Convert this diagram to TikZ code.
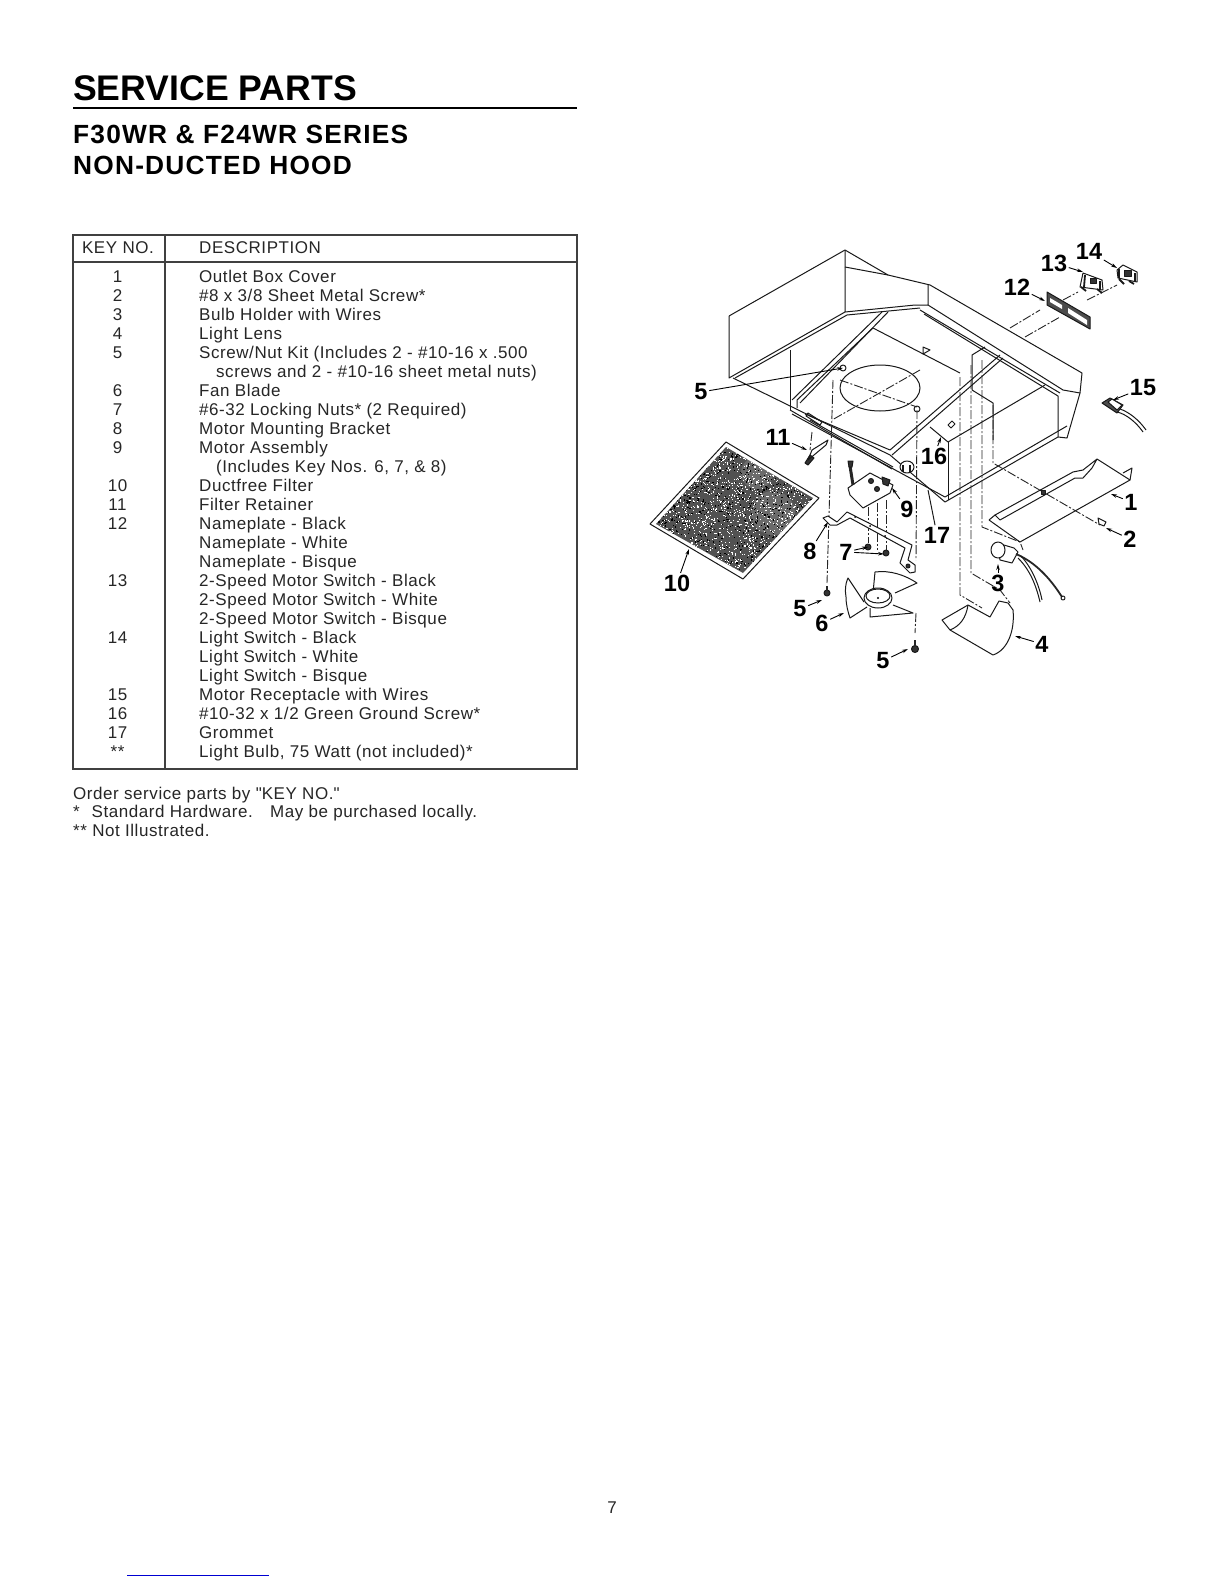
\documentclass[tikz,border=0pt]{standalone}
\usepackage{fontspec}
\setmainfont{Liberation Sans}
\newfontfamily\tablefont[LetterSpace=3.3]{Liberation Sans}
\newfontfamily\subheadfont[LetterSpace=4.6]{Liberation Sans}
\usetikzlibrary{arrows.meta}
\definecolor{linkblue}{RGB}{0,0,210}
\tikzset{
	tabletext/.style={anchor=base west, inner sep=0pt, font=\tablefont\fontsize{17}{19}\selectfont, black!85},
	keytext/.style={anchor=base, inner sep=0pt, font=\tablefont\fontsize{17}{19}\selectfont, black!85},
	subhead/.style={anchor=base west, inner sep=0pt, font=\subheadfont\fontsize{26.3}{30}\selectfont\bfseries},
	partno/.style={inner sep=1.5pt, font=\fontsize{23.5}{24}\selectfont\bfseries},
	leader/.style={-{Stealth[length=6pt,width=3.5pt]}, line width=0.9pt},
	part/.style={line width=1pt, black!90, line join=round},
	heavypart/.style={line width=1.8pt, black!90},
	axisline/.style={line width=0.9pt, black!85, dash pattern=on 9pt off 2pt on 2pt off 2pt},
	darkpart/.style={part, fill=black!80}
}
\begin{document}
\begin{tikzpicture}[x=1pt, y=-1pt]
\useasboundingbox (0,0) rectangle (1224,1584);
\fill[white] (0,0) rectangle (1224,1584);

%heading
	\node[anchor=base west, inner sep=0pt, font=\fontsize{35.6}{36}\selectfont\bfseries] (title) at (73,101) {SERVICE PARTS};
	\node[subhead] (model) at (73,143) {F30WR \& F24WR SERIES};
	\node[subhead] (kind) at (73,174) {NON-DUCTED HOOD};
	\draw[line width=2pt] (73,107.7) -- (577,107.7);

%table
	\draw[line width=1.3pt, black!75] (73,235) rectangle (577,769);
	\draw[line width=1.3pt, black!75] (73,262) -- (577,262);
	\draw[line width=1.3pt, black!75] (165,235) -- (165,769);
	\node[keytext] (headkey) at (118,253) {KEY NO.};
	\node[tabletext] (headdesc) at (199,253) {DESCRIPTION};

	\foreach \row/\key in {0/1,1/2,2/3,3/4,4/5,6/6,7/7,8/8,9/9,11/10,12/11,13/12,16/13,19/14,22/15,23/16,24/17,25/{**}}{
		\node[keytext] (key\row) at (117.5,{282+19*\row}) {\key};
	}
	\foreach \row/\xx/\desc in {
		0/199/Outlet Box Cover,
		1/199/{\#8 x 3/8 Sheet Metal Screw*},
		2/199/Bulb Holder with Wires,
		3/199/Light Lens,
		4/199/{Screw/Nut Kit (Includes 2 - \#10-16 x .500},
		5/216/{screws and 2 - \#10-16 sheet metal nuts)},
		6/199/Fan Blade,
		7/199/\#6-32 Locking Nuts* (2 Required),
		8/199/Motor Mounting Bracket,
		9/199/Motor Assembly,
		10/216/{(Includes Key Nos. 6, 7, \& 8)},
		11/199/Ductfree Filter,
		12/199/Filter Retainer,
		13/199/Nameplate - Black,
		14/199/Nameplate - White,
		15/199/Nameplate - Bisque,
		16/199/2-Speed Motor Switch - Black,
		17/199/2-Speed Motor Switch - White,
		18/199/2-Speed Motor Switch - Bisque,
		19/199/Light Switch - Black,
		20/199/Light Switch - White,
		21/199/Light Switch - Bisque,
		22/199/Motor Receptacle with Wires,
		23/199/{\#10-32 x 1/2 Green Ground Screw*},
		24/199/Grommet,
		25/199/{Light Bulb, 75 Watt (not included)*}}{
		\node[tabletext] (desc\row) at (\xx,{282+19*\row}) {\desc};
	}

%notes
	\node[tabletext] (note1) at (73,799) {Order service parts by \textquotedbl KEY NO.\textquotedbl};
	\node[tabletext] (note2) at (73,817.5) {*\hspace{0.7em}Standard Hardware.\hspace{0.6em} May be purchased locally.};
	\node[tabletext] (note3) at (73,836) {** Not Illustrated.};
	\node[keytext] (pageno) at (612,1513) {7};
	\draw[linkblue, line width=1.5pt] (127,1575.5) -- (269,1575.5);

%hood outside
	\draw[part] (729,316) -- (845,250) -- (888,275) -- (930,285) -- (1082,373) -- (1080,393) -- (1067,438) -- (1058,437) -- (945,502) -- (890,455) -- (733,378);
	\draw[part] (729,316) -- (729,378) -- (845,312) -- (845,250);
	\draw[part] (735,378) -- (847,315) -- (920,308);
	\draw[part] (845,267) -- (888,275);
	\draw[part] (845,312) -- (915,305) -- (928,305) -- (928,285);
	\draw[part] (928,305) -- (1063,390) -- (1080,393);
	\draw[part] (920,310) -- (1060,393);
	\draw[part] (924,314) -- (1058,396) -- (1058,437);
	\draw[part] (790,350) -- (790,410);
	\draw[part] (790,410) -- (892,469);
	\draw[part] (792,414) -- (945,497) -- (1067,426);
	\draw[part] (808,413) -- (822,422) -- (820,425) -- (806,416) -- cycle;

%hood inside
	\draw[part] (792,400) -- (882,312);
	\draw[part] (800,403) -- (888,312);
	\draw[part] (797,408) -- (797,400) -- (873,328) -- (960,373);
	\draw[part] (805,414) -- (890,450) -- (1000,355);
	\draw[part] (810,420) -- (893,467);
	\draw[part] (892,455) -- (1003,358);
	\draw[part] (930,427) -- (948,442) -- (1045,385);
	\draw[part] (948,442) -- (948,500);
	\draw[part] (972,390) -- (972,355) -- (985,347);
	\draw[part] (972,390) -- (993,403) -- (993,440);
	\draw[part] (880,388) ellipse (40 and 23);
	\draw[axisline] (840,380) -- (917,407);
	\draw[axisline] (920,370) -- (832,420);
	\draw[part] (843,368) circle (3);
	\draw[part] (917,409) circle (3);
	\draw[part] (923,347) -- (930,350) -- (923,354) -- cycle;

%centre lines
	\draw[axisline] (833,380) -- (827,583);
	\draw[axisline] (917,410) -- (916,560);
	\draw[axisline] (916,613) -- (915,633);
	\draw[axisline] (812,432) -- (810,450);
	\draw[axisline] (960,377) -- (960,595) -- (982,608);
	\draw[axisline] (971,365) -- (971,573) -- (1000,590) -- (1010,603);
	\draw[axisline] (982,360) -- (982,527) -- (1020,542) -- (1023,550);
	\draw[axisline] (993,405) -- (993,463) -- (1100,525);
	\draw[axisline] (868,507) -- (868,543);
	\draw[axisline] (877,503) -- (877,550);
	\draw[axisline] (886,500) -- (886,550);
	\draw[axisline] (1010,328) -- (1040,310);
	\draw[axisline] (1025,337) -- (1060,317);
	\draw[axisline] (1063,300) -- (1078,292);
	\draw[axisline] (1087,300) -- (1117,285);

%filter
	\draw[part, fill=white] (726,442) -- (819,498) -- (743,579) -- (650,524) -- cycle;
	\begin{scope}
		\clip (726,447) -- (813,498) -- (743,573) -- (656,524) -- cycle;
		\fill[black!68] (650,440) rectangle (820,580);
		\fill[white, opacity=0.15] (757,473) circle (16);
		\fill[white, opacity=0.15] (773,513) circle (22);
		\pgfmathsetseed{17}
		\foreach \n in {1,...,2200}{
			\fill[white] ({650+170*rnd},{440+140*rnd}) rectangle +(1.1,1.1);
		}
		\foreach \n in {1,...,1200}{
			\fill[black] ({650+170*rnd},{440+140*rnd}) rectangle +(1.2,1.2);
		}
	\end{scope}

%motor and bracket
	\draw[part, fill=white] (823,518) -- (828,516) -- (837,522) -- (847,512) -- (912,545) -- (908,560) -- (915,565) -- (915,572) -- (910,573) -- (900,563) -- (905,548) -- (850,518) -- (837,525) -- (830,525) -- cycle;
	\fill (855,517) circle (1);
	\fill (870,526) circle (1);
	\fill (885,536) circle (1);
	\draw[darkpart] (908,566) circle (2);
	\draw[part, fill=white] (848,488) -- (870,473) -- (893,485) -- (890,493) -- (863,508) -- (850,495) -- cycle;
	\draw[line width=3pt, black!85] (850,466) -- (853,485);
	\draw[darkpart] (848,461) -- (853,461) -- (852,467) -- (849,467) -- cycle;
	\draw[darkpart] (882,477) -- (890,480) -- (888,486) -- (883,484) -- cycle;
	\draw[darkpart] (871,481) circle (2.5);
	\draw[darkpart] (877,489) circle (2.5);
	\draw[darkpart] (805,463) -- (810,455) -- (814,458) -- (808,465) -- cycle;
	\draw[part] (808,460) -- (812,450) -- (828,440) -- (826,445) -- (814,455) -- cycle;

%small parts
	\draw[part, fill=white] (907,467) ellipse (7 and 6);
	\draw[heavypart] (903,465) -- (903,472);
	\draw[heavypart] (910,465) -- (910,472);
	\draw[part, fill=white] (948,425) -- (952,421) -- (955,424) -- (951,428) -- cycle;
	\draw[darkpart] (868,547) circle (3);
	\draw[darkpart] (886,553) circle (3);
	\draw[darkpart] (827,593) circle (3);
	\draw[line width=2pt, black!85] (827,586) -- (827,591);
	\draw[darkpart] (915,649) circle (3.5);
	\draw[line width=2pt, black!85] (915,640) -- (915,646);
	\draw[part] (1098,518) -- (1106,522) -- (1104,526) -- (1099,524) -- cycle;

%fan
	\draw[part, fill=white] (864,602) -- (848,578) .. controls (845,585) and (845,590) .. (846,597) .. controls (846,605) and (848,612) .. (850,618) -- (867,607);
	\draw[part] (873,593) -- (875,572) .. controls (890,570) and (905,575) .. (917,583) -- (895,593);
	\draw[part] (893,605) -- (913,613) -- (870,617) -- (870,608);
	\draw[part, fill=white] (878,598) ellipse (14 and 10);
	\draw[part] (878,596) ellipse (12 and 7);
	\fill (878,598) circle (1.2);

%outlet box cover
	\draw[part] (989,520) -- (1020,542) -- (1130,480) -- (1097,459) -- (1092,468) -- (1083,478) -- (1075,478) -- (1000,520) -- (995,515) -- (1073,472) -- (1083,470) -- (1097,459);
	\draw[part] (989,520) -- (995,515);
	\draw[part] (1123,473) -- (1132,468) -- (1130,480);
	\draw[darkpart] (1041,490) rectangle (1045,494);

%bulb holder
	\draw[part, fill=white] (997,543) -- (1014,548) -- (1018,552) -- (1012,563) -- (1000,560) -- cycle;
	\draw[part, fill=white] (998,550) ellipse (7 and 8);
	\draw[line width=1.8pt, black!85] (1016,554) .. controls (1035,562) and (1050,578) .. (1062,597);
	\draw[part] (1018,558) .. controls (1030,570) and (1036,585) .. (1040,602);
	\draw[part] (1021,556) .. controls (1032,568) and (1039,585) .. (1042,600);
	\draw[part] (1063,598) circle (2);

%lens
	\draw[part, fill=white] (942,620) -- (968,605) -- (990,617) -- (999,601) -- (1008,603) -- (1013,610) .. controls (1015,630) and (1008,650) .. (993,655) -- (950,630) -- cycle;
	\draw[part] (968,605) .. controls (966,618) and (960,626) .. (950,630);

%nameplate and switches
	\draw[part, fill=black!70] (1047,292) -- (1090,317) -- (1090,329) -- (1047,305) -- cycle;
	\fill[white] (1050,298) -- (1062,305) -- (1062,309) -- (1050,302) -- cycle;
	\fill[white] (1068,308) -- (1087,320) -- (1087,325) -- (1068,313) -- cycle;
	\draw[part, fill=white] (1083,273) -- (1102,280) -- (1103,290) -- (1080,287) -- cycle;
	\draw[heavypart] (1085,275) -- (1084,287);
	\draw[heavypart] (1100,281) -- (1100,290);
	\draw[darkpart] (1090,278) rectangle (1096,283);
	\draw[heavypart] (1081,287) -- (1086,291);
	\draw[heavypart] (1097,289) -- (1102,293);
	\draw[part, fill=white] (1117,270) -- (1123,265) -- (1137,272) -- (1137,282) -- (1118,278) -- cycle;
	\draw[heavypart] (1119,269) -- (1119,278);
	\draw[heavypart] (1135,273) -- (1135,282);
	\draw[darkpart] (1124,270) rectangle (1131,276);
	\draw[heavypart] (1119,279) -- (1124,284);
	\draw[heavypart] (1129,281) -- (1134,284);

%receptacle
	\draw[part, fill=black!70] (1102,403) -- (1110,398) -- (1123,405) -- (1117,413) -- cycle;
	\draw[part, fill=white] (1108,402) -- (1112,399) -- (1122,405) -- (1117,410) -- cycle;
	\draw[part] (1117,412) .. controls (1126,414) and (1136,422) .. (1143,432);
	\draw[part] (1120,409) .. controls (1129,412) and (1139,420) .. (1146,430);

%key numbers
	\foreach \lx/\ly/\name/\txt/\ex/\ey in {
		701/392/a/5/843/368, 778/437/k/11/807/450, 677/583/j/10/689/549,
		810/551/h/8/828/522, 907/509/i/9/892/488, 800/609/b/5/822/600,
		822/623/f/6/844/613, 883/661/c/5/908/649, 998/583/g/3/998/564,
		1042/644/d/4/1015/636, 1130/539/e/2/1106/528, 1131/502/l/1/1111/494,
		1017/287/m/12/1045/301, 1054/263/n/13/1083/272, 1089/251/o/14/1117/268,
		1143/388/p/15/1113/400, 934/456/q/16/941/437} {
		\node[partno] (lab\name) at (\lx,\ly) {\txt};
		\coordinate (end\name) at (\ex,\ey);
		\draw[leader] (lab\name) -- (end\name);
	}
	\node[partno] (labseven) at (846,552) {7};
	\coordinate (nutleft) at (868,547);
	\coordinate (nutright) at (884,554);
	\draw[leader] (labseven) -- (nutleft);
	\draw[leader] (labseven) -- (nutright);
	\node[partno] (labgrommet) at (937,535) {17};
	\coordinate (grommetend) at (928,490);
	\draw[part] (labgrommet) -- (grommetend);
\end{tikzpicture}
\end{document}
